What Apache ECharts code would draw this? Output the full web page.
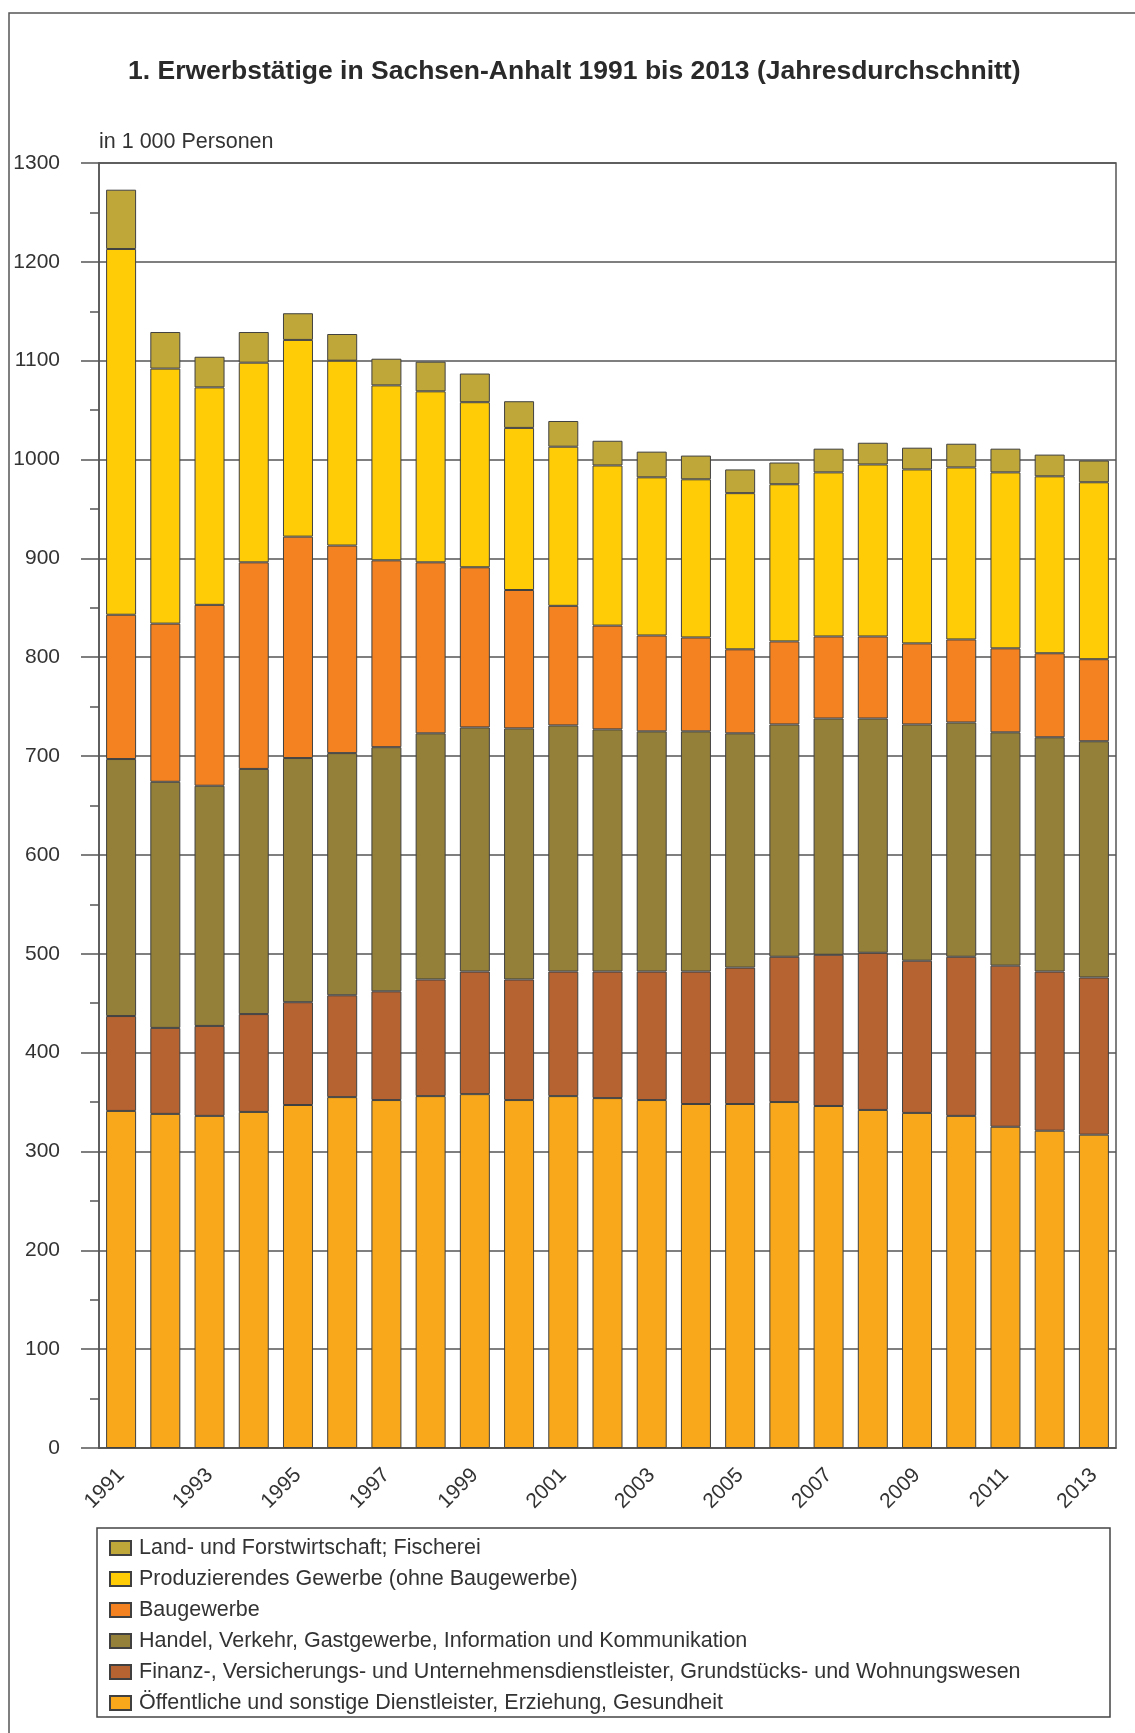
<!DOCTYPE html>
<html>
<head>
<meta charset="utf-8">
<title>Erwerbstätige in Sachsen-Anhalt 1991 bis 2013</title>
<script src="https://cdn.jsdelivr.net/npm/echarts@6/dist/echarts.min.js"></script>
<style>
  html, body { margin: 0; padding: 0; background: #fff; }
  #myChart { width: 1135px; height: 1733px; }
</style>
</head>
<body>
<div id="myChart"></div>
<script>
// Jahre
const years = ['1991', '1992', '1993', '1994', '1995', '1996', '1997', '1998', '1999', '2000', '2001', '2002',
  '2003', '2004', '2005', '2006', '2007', '2008', '2009', '2010', '2011', '2012', '2013'];

// Erwerbstätige in 1 000 Personen (von unten nach oben gestapelt)
const oeffentliche = [341, 338, 336, 340, 347, 355, 352, 356, 358, 352, 356, 354, 352, 348, 348, 350, 346, 342, 339, 336, 325, 321, 317];
const finanz = [96, 87, 91, 99, 104, 103, 110, 118, 124, 122, 126, 128, 130, 134, 138, 147, 153, 159, 154, 161, 163, 161, 159];
const handel = [260, 249, 243, 248, 247, 245, 247, 249, 247, 254, 249, 245, 243, 243, 237, 235, 239, 237, 239, 237, 236, 237, 239];
const baugewerbe = [146, 160, 183, 209, 224, 210, 189, 173, 162, 140, 121, 105, 97, 95, 85, 84, 83, 83, 82, 84, 85, 85, 83];
const produzierend = [370, 258, 220, 202, 199, 187, 177, 173, 167, 164, 161, 162, 160, 160, 158, 159, 166, 174, 176, 174, 178, 179, 179];
const landwirtschaft = [60, 37, 31, 31, 27, 27, 27, 30, 29, 27, 26, 25, 26, 24, 24, 22, 24, 22, 22, 24, 24, 22, 22];

const names = [
  'Land- und Forstwirtschaft; Fischerei',
  'Produzierendes Gewerbe (ohne Baugewerbe)',
  'Baugewerbe',
  'Handel, Verkehr, Gastgewerbe, Information und Kommunikation',
  'Finanz-, Versicherungs- und Unternehmensdienstleister, Grundstücks- und Wohnungswesen',
  'Öffentliche und sonstige Dienstleister, Erziehung, Gesundheit'
];

const font = 'Liberation Sans, Arial, sans-serif';
const textColor = '#333';
const lineColor = '#555';

function barSeries(name, data, color) {
  return {
    name: name,
    type: 'bar',
    stack: 'total',
    data: data,
    barWidth: 30,
    itemStyle: {
      color: color,
      borderColor: '#404040',
      borderWidth: 1
    },
    emphasis: { disabled: true }
  };
}

function drawChart() {
  const chart = echarts.init(document.getElementById('myChart'));
  const option = {
    animation: false,
    backgroundColor: '#fff',
    textStyle: { fontFamily: font },
    title: [
      {
        text: '1. Erwerbstätige in Sachsen-Anhalt 1991 bis 2013 (Jahresdurchschnitt)',
        left: 128,
        top: 58,
        padding: 0,
        textStyle: { fontFamily: font, fontSize: 26.5, fontWeight: 'bold', color: '#2a2a2a' }
      },
      {
        text: 'in 1 000 Personen',
        left: 99,
        top: 131,
        padding: 0,
        textStyle: { fontFamily: font, fontSize: 21.5, fontWeight: 'normal', color: textColor }
      }
    ],
    graphic: [
      // Rahmen um die ganze Grafik (rechts und unten abgeschnitten)
      {
        type: 'rect',
        shape: { x: 9, y: 13, width: 1200, height: 1800 },
        style: { fill: 'none', stroke: lineColor, lineWidth: 1.5 }
      },
      // Rahmen der Legende
      {
        type: 'rect',
        shape: { x: 97, y: 1528, width: 1013, height: 189 },
        style: { fill: 'none', stroke: '#444', lineWidth: 1.5 }
      }
    ],
    legend: {
      orient: 'vertical',
      left: 104,
      top: 1532,
      itemWidth: 21,
      itemHeight: 14,
      itemGap: 9,
      icon: 'rect',
      selectedMode: false,
      data: names,
      textStyle: {
        fontFamily: font,
        fontSize: 21.5,
        lineHeight: 20,
        color: textColor,
        padding: [0, 0, 0, 3]
      }
    },
    grid: {
      left: 99,
      top: 163,
      width: 1017,
      height: 1285,
      show: true,
      borderColor: lineColor,
      borderWidth: 1.5
    },
    xAxis: {
      type: 'category',
      data: years,
      axisLine: { lineStyle: { color: lineColor, width: 1.5 } },
      axisTick: { show: false },
      axisLabel: {
        interval: 1,
        rotate: 45,
        margin: 24,
        fontFamily: font,
        fontSize: 21,
        color: textColor
      }
    },
    yAxis: {
      type: 'value',
      min: 0,
      max: 1300,
      interval: 100,
      axisLine: { show: true, lineStyle: { color: lineColor, width: 1.5 } },
      axisTick: { show: true, length: 18, lineStyle: { color: lineColor, width: 1.5 } },
      minorTick: { show: true, splitNumber: 2, length: 9, lineStyle: { color: lineColor, width: 1.5 } },
      splitLine: { lineStyle: { color: lineColor, width: 1.5 } },
      axisLabel: {
        margin: 39,
        fontFamily: font,
        fontSize: 21,
        color: textColor,
        formatter: function (v) { return String(v); }
      }
    },
    series: [
      barSeries(names[5], oeffentliche, '#F8A81A'),
      barSeries(names[4], finanz, '#B66231'),
      barSeries(names[3], handel, '#948039'),
      barSeries(names[2], baugewerbe, '#F58220'),
      barSeries(names[1], produzierend, '#FFCC05'),
      barSeries(names[0], landwirtschaft, '#BFA73A')
    ]
  };
  chart.setOption(option);
}

drawChart();
</script>
</body>
</html>
